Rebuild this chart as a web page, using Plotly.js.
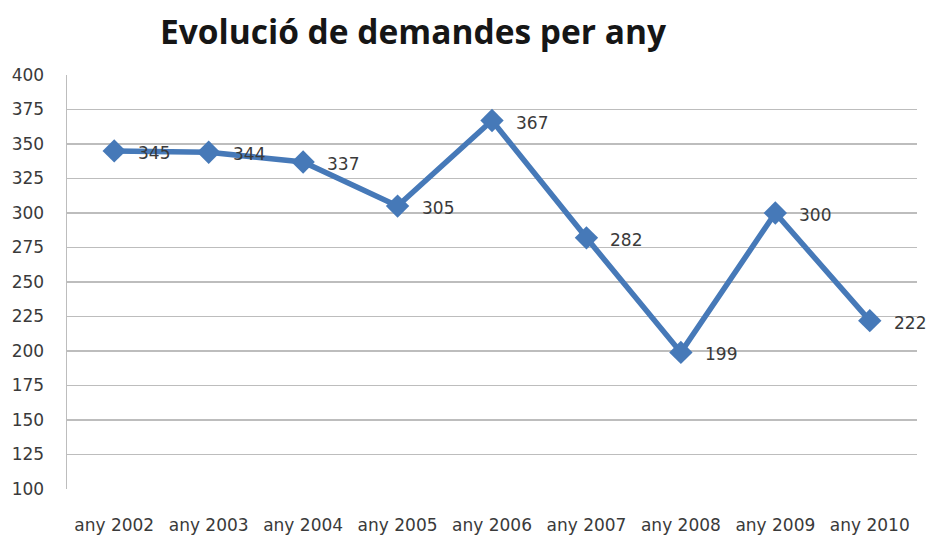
<!DOCTYPE html>
<html>
<head>
<meta charset="utf-8">
<script src="https://cdn.plot.ly/plotly-3.0.1.min.js"></script>
<style>html,body{margin:0;padding:0;background:#fff;}#chart{width:928px;height:537px;}</style>
</head>
<body>
<div id="chart"></div>
<script>
const categories = ["any 2002","any 2003","any 2004","any 2005","any 2006","any 2007","any 2008","any 2009","any 2010"];
const demandes = [345, 344, 337, 305, 367, 282, 199, 300, 222];
const yTicks = [100,125,150,175,200,225,250,275,300,325,350,375,400];

const FONT = "DejaVu Sans, sans-serif";

const trace = {
  x: categories,
  y: demandes,
  type: "scatter",
  mode: "lines+markers",
  line: {color: "#4679b8", width: 5.5},
  marker: {symbol: "diamond", size: 18, color: "#4679b8"},
  cliponaxis: false,
  hoverinfo: "skip"
};

const labels = categories.map((c, i) => ({
  x: c, y: demandes[i], text: String(demandes[i]),
  xref: "x", yref: "y", showarrow: false,
  xanchor: "left", yanchor: "middle", xshift: 22, yshift: -2,
  font: {family: FONT, size: 17, color: "#3a3a3a"}
}));

const layout = {
  width: 928, height: 537,
  margin: {l: 67, r: 11, t: 75, b: 48},
  paper_bgcolor: "#ffffff", plot_bgcolor: "#ffffff",
  showlegend: false,
  title: {
    text: "<b>Evolució de demandes per any</b>",
    font: {family: "Open Sans, Liberation Sans, sans-serif", size: 33.5, color: "#161616"},
    x: 0.445, xanchor: "center", y: 0.94, yanchor: "middle"
  },
  annotations: labels,
  xaxis: {
    type: "category",
    range: [-0.5, 8.5],
    showgrid: false,
    showline: false,
    zeroline: false,
    ticks: "",
    tickfont: {family: FONT, size: 17, color: "#3a3a3a"},
    ticklabelstandoff: 24
  },
  yaxis: {
    range: [100, 400],
    tickvals: yTicks,
    ticktext: yTicks.map(String),
    showgrid: true,
    gridcolor: "#bdbdbd",
    gridwidth: 1.5,
    showline: true,
    linecolor: "#bdbdbd",
    linewidth: 1.5,
    zeroline: false,
    ticks: "",
    tickfont: {family: FONT, size: 17, color: "#3a3a3a"},
    ticklabelstandoff: 18
  }
};

Plotly.newPlot("chart", [trace], layout, {staticPlot: true, displayModeBar: false});
</script>
</body>
</html>
